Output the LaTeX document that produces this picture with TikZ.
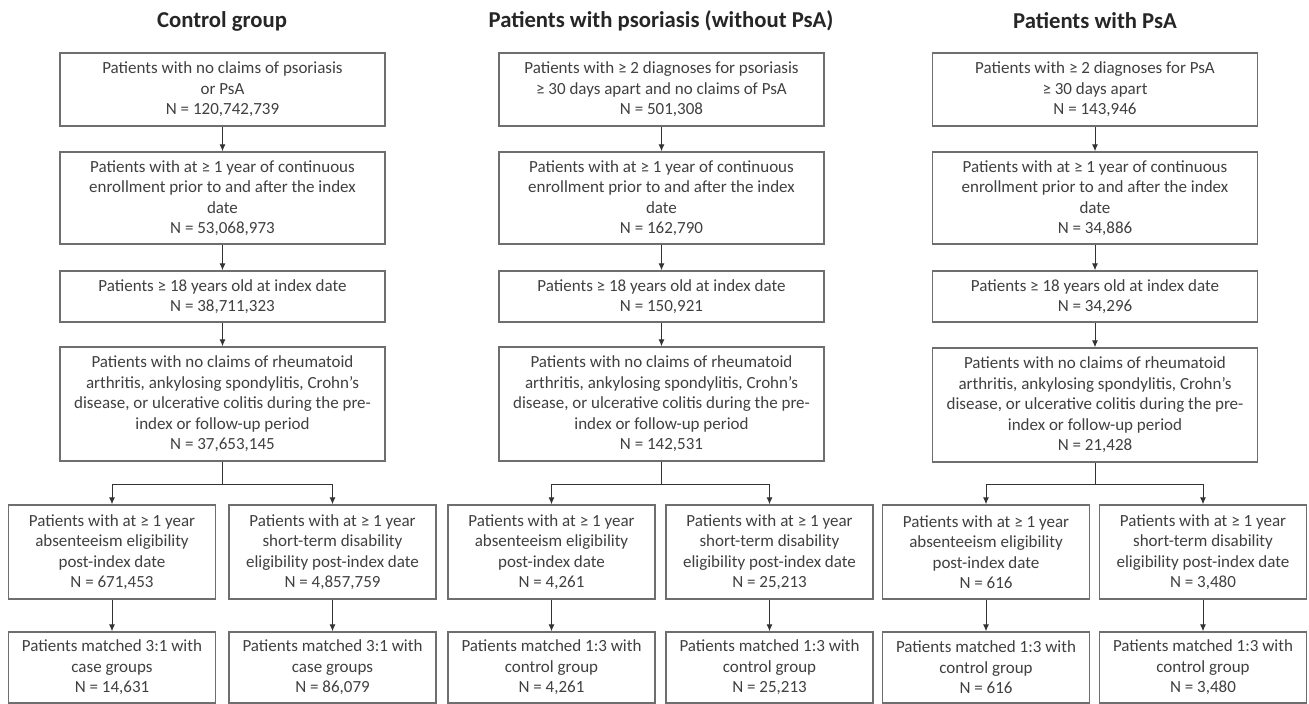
\documentclass[tikz,border=0pt]{standalone}
\usepackage{fontspec}
\setmainfont{Carlito}
\usetikzlibrary{arrows.meta}
\definecolor{txt}{HTML}{404040}
\definecolor{ttl}{HTML}{262626}
\definecolor{brd}{HTML}{6E6E6E}
\definecolor{arr}{HTML}{333333}
\tikzset{
  box/.style={draw=brd, line width=1.4pt, text=txt, align=center, inner sep=0pt,
    font=\fontsize{17}{20.5}\selectfont},
  wide/.style={box, minimum width=325pt},
  narrow/.style={box, minimum width=207pt},
  ttlstyle/.style={text=ttl, font=\fontsize{22.7}{26}\selectfont\bfseries},
  conn/.style={draw=arr, line width=1pt, -{Latex[length=7pt,width=6pt]}},
  plain/.style={draw=arr, line width=1pt}
}
\begin{document}
\begin{tikzpicture}[x=1pt,y=-1pt]
\useasboundingbox[fill=white] (0,0) rectangle (1309,704);

% ---------- Control group ----------
\node[ttlstyle] (t1) at (222,21) {Control group};
\node[wide, minimum height=73pt] (a1) at (222.5,89.5) {Patients with no claims of psoriasis\\or PsA\\N = 120,742,739};
\node[wide, minimum height=92pt] (a2) at (222.5,198) {Patients with at ≥ 1 year of continuous\\enrollment prior to and after the index\\date\\N = 53,068,973};
\node[wide, minimum height=51pt] (a3) at (222.5,296.5) {Patients ≥ 18 years old at index date\\N = 38,711,323};
\node[wide, minimum height=114pt] (a4) at (222.5,404) {Patients with no claims of rheumatoid\\arthritis, ankylosing spondylitis, Crohn’s\\disease, or ulcerative colitis during the pre-\\index or follow-up period\\N = 37,653,145};
\node[narrow, minimum height=94pt] (a5) at (112,552) {Patients with at ≥ 1 year\\absenteeism eligibility\\post-index date\\N = 671,453};
\node[narrow, minimum height=94pt] (a6) at (332.5,552) {Patients with at ≥ 1 year\\short-term disability\\eligibility post-index date\\N = 4,857,759};
\node[narrow, minimum height=71pt] (a7) at (112,667.5) {Patients matched 3:1 with\\case groups\\N = 14,631};
\node[narrow, minimum height=71pt] (a8) at (332.5,667.5) {Patients matched 3:1 with\\case groups\\N = 86,079};
\coordinate (aj) at (222.5,484);
\draw[conn] (a1) -- (a2);
\draw[conn] (a2) -- (a3);
\draw[conn] (a3) -- (a4);
\draw[plain] (a4) -- (aj);
\draw[conn] (aj) -| (a5);
\draw[conn] (aj) -| (a6);
\draw[conn] (a5) -- (a7);
\draw[conn] (a6) -- (a8);

% ---------- Psoriasis ----------
\node[ttlstyle] (t2) at (661,21) {Patients with psoriasis (without PsA)};
\node[wide, minimum height=73pt] (b1) at (661.5,89.5) {Patients with ≥ 2 diagnoses for psoriasis\\≥ 30 days apart and no claims of PsA\\N = 501,308};
\node[wide, minimum height=92pt] (b2) at (661.5,198) {Patients with at ≥ 1 year of continuous\\enrollment prior to and after the index\\date\\N = 162,790};
\node[wide, minimum height=51pt] (b3) at (661.5,296.5) {Patients ≥ 18 years old at index date\\N = 150,921};
\node[wide, minimum height=114pt] (b4) at (661.5,404) {Patients with no claims of rheumatoid\\arthritis, ankylosing spondylitis, Crohn’s\\disease, or ulcerative colitis during the pre-\\index or follow-up period\\N = 142,531};
\node[narrow, minimum height=94pt] (b5) at (551.5,552) {Patients with at ≥ 1 year\\absenteeism eligibility\\post-index date\\N = 4,261};
\node[narrow, minimum height=94pt] (b6) at (769.5,552) {Patients with at ≥ 1 year\\short-term disability\\eligibility post-index date\\N = 25,213};
\node[narrow, minimum height=71pt] (b7) at (551.5,667.5) {Patients matched 1:3 with\\control group\\N = 4,261};
\node[narrow, minimum height=71pt] (b8) at (769.5,667.5) {Patients matched 1:3 with\\control group\\N = 25,213};
\coordinate (bj) at (661.5,484);
\draw[conn] (b1) -- (b2);
\draw[conn] (b2) -- (b3);
\draw[conn] (b3) -- (b4);
\draw[plain] (b4) -- (bj);
\draw[conn] (bj) -| (b5);
\draw[conn] (bj) -| (b6);
\draw[conn] (b5) -- (b7);
\draw[conn] (b6) -- (b8);

% ---------- PsA ----------
\node[ttlstyle] (t3) at (1095,21) {Patients with PsA};
\node[wide, minimum height=73pt] (c1) at (1095,89.5) {Patients with ≥ 2 diagnoses for PsA\\≥ 30 days apart\\N = 143,946};
\node[wide, minimum height=92pt] (c2) at (1095,198) {Patients with at ≥ 1 year of continuous\\enrollment prior to and after the index\\date\\N = 34,886};
\node[wide, minimum height=51pt] (c3) at (1095,296.5) {Patients ≥ 18 years old at index date\\N = 34,296};
\node[wide, minimum height=114pt] (c4) at (1095,405) {Patients with no claims of rheumatoid\\arthritis, ankylosing spondylitis, Crohn’s\\disease, or ulcerative colitis during the pre-\\index or follow-up period\\N = 21,428};
\node[narrow, minimum height=94pt] (c5) at (986,552) {Patients with at ≥ 1 year\\absenteeism eligibility\\post-index date\\N = 616};
\node[narrow, minimum height=94pt] (c6) at (1203,552) {Patients with at ≥ 1 year\\short-term disability\\eligibility post-index date\\N = 3,480};
\node[narrow, minimum height=71pt] (c7) at (986,667.5) {Patients matched 1:3 with\\control group\\N = 616};
\node[narrow, minimum height=71pt] (c8) at (1203,667.5) {Patients matched 1:3 with\\control group\\N = 3,480};
\coordinate (cj) at (1095,484);
\draw[conn] (c1) -- (c2);
\draw[conn] (c2) -- (c3);
\draw[conn] (c3) -- (c4);
\draw[plain] (c4) -- (cj);
\draw[conn] (cj) -| (c5);
\draw[conn] (cj) -| (c6);
\draw[conn] (c5) -- (c7);
\draw[conn] (c6) -- (c8);
\end{tikzpicture}
\end{document}
